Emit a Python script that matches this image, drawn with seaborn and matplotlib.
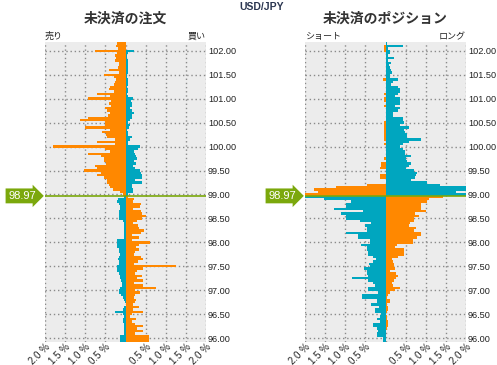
import numpy as np
import pandas as pd
import seaborn as sns
import matplotlib.pyplot as plt

ORANGE = "#ff8800"
TEAL = "#00a6bf"
GREEN = "#7ba80c"

pair = "USD/JPY"
current_price = 98.97

# 0.05 wide price buckets, listed top to bottom
prices_above = np.round(102.15 - 0.05 * np.arange(64), 2)
prices_below = np.round(98.95 - 0.05 * np.arange(61), 2)

# 未決済の注文 (% of book)
orders_left_above = [0.22, 0.23, 0.18, 0.77, 0.2, 0.27, 0.23, 0.25, 0.17, 0.17, 0.18, 0.42, 0.17,
                     0.54, 0.28, 0.23, 0.25, 0.28, 0.38, 0.4, 0.28, 0.72, 0.38, 0.92, 0.37, 0.42,
                     0.35, 0.5, 0.47, 0.38, 0.43, 0.93, 1.13, 0.52, 0.5, 1.0, 0.38, 0.58, 0.48,
                     0.47, 0.27, 0.72, 0.25, 1.8, 0.52, 0.38, 0.93, 0.62, 0.53, 0.53, 0.48, 0.77,
                     0.7, 1.02, 0.6, 0.72, 0.53, 0.47, 0.47, 0.4, 0.38, 0.32, 0.13, 0.07]
orders_right_above = [0.0, 0.0, 0.0, 0.21, 0.07, 0.03, 0.03, 0.05, 0.05, 0.07, 0.05, 0.05, 0.07,
                      0.03, 0.03, 0.05, 0.07, 0.05, 0.03, 0.05, 0.05, 0.03, 0.05, 0.18, 0.13, 0.15,
                      0.15, 0.1, 0.15, 0.2, 0.17, 0.15, 0.1, 0.07, 0.1, 0.08, 0.03, 0.07, 0.07,
                      0.15, 0.12, 0.07, 0.05, 0.37, 0.32, 0.22, 0.23, 0.25, 0.28, 0.22, 0.25, 0.18,
                      0.23, 0.37, 0.38, 0.42, 0.4, 0.23, 0.42, 0.17, 0.17, 0.18, 0.18, 0.07]
orders_left_below = [0.05, 0.18, 0.2, 0.17, 0.13, 0.13, 0.17, 0.15, 0.17, 0.15, 0.07, 0.05, 0.05,
                     0.03, 0.03, 0.03, 0.03, 0.05, 0.22, 0.22, 0.2, 0.22, 0.17, 0.15, 0.13, 0.15,
                     0.18, 0.17, 0.17, 0.2, 0.22, 0.2, 0.17, 0.13, 0.13, 0.1, 0.08, 0.08, 0.13,
                     0.15, 0.17, 0.1, 0.07, 0.05, 0.02, 0.0, 0.03, 0.07, 0.27, 0.07, 0.05, 0.07,
                     0.07, 0.05, 0.05, 0.05, 0.05, 0.05, 0.13, 0.13, 0.13]
orders_right_below = [0.07, 0.22, 0.18, 0.38, 0.35, 0.18, 0.38, 0.42, 0.5, 0.42, 0.28, 0.18, 0.32,
                      0.33, 0.45, 0.38, 0.17, 0.33, 0.15, 0.62, 0.33, 0.25, 0.33, 0.23, 0.22, 0.38,
                      0.43, 0.32, 0.22, 1.25, 0.43, 0.28, 0.23, 0.42, 0.28, 0.43, 0.2, 0.43, 0.75,
                      0.23, 0.35, 0.23, 0.2, 0.25, 0.23, 0.18, 0.33, 0.18, 0.43, 0.17, 0.1, 0.25,
                      0.17, 0.23, 0.43, 0.28, 0.43, 0.23, 0.58, 0.58, 0.58]

# 未決済のポジション (% of book)
pos_left_above = [0.0, 0.05, 0.05, 0.03, 0.0, 0.0, 0.0, 0.0, 0.0, 0.0, 0.0, 0.0, 0.0,
                  0.0, 0.0, 0.07, 0.0, 0.0, 0.0, 0.0, 0.0, 0.05, 0.0, 0.03, 0.05, 0.0,
                  0.05, 0.0, 0.0, 0.0, 0.0, 0.0, 0.0, 0.05, 0.05, 0.05, 0.05, 0.05, 0.05,
                  0.05, 0.05, 0.0, 0.05, 0.0, 0.0, 0.0, 0.0, 0.0, 0.05, 0.0, 0.12, 0.1,
                  0.13, 0.0, 0.0, 0.13, 0.13, 0.0, 0.0, 0.47, 1.22, 1.77, 1.67, 2.3]
pos_right_above = [0.03, 0.43, 0.07, 0.12, 0.1, 0.07, 0.22, 0.07, 0.13, 0.08, 0.12, 0.13, 0.15,
                   0.12, 0.1, 0.32, 0.18, 0.13, 0.3, 0.37, 0.35, 0.32, 0.23, 0.35, 0.37, 0.35,
                   0.23, 0.37, 0.3, 0.18, 0.18, 0.43, 0.43, 0.45, 0.35, 0.58, 0.45, 0.48, 0.53,
                   0.53, 0.88, 0.58, 0.43, 0.35, 0.43, 0.48, 0.48, 0.63, 0.5, 0.53, 0.63, 0.58,
                   0.52, 0.7, 0.78, 0.75, 0.73, 0.63, 1.03, 1.35, 2.3, 2.3, 1.74, 2.3]
pos_left_below = [2.3, 1.53, 0.85, 0.97, 0.97, 1.27, 0.55, 1.1, 0.97, 0.97, 0.63, 0.35, 0.52,
                  0.47, 0.47, 0.97, 0.68, 0.68, 0.38, 0.38, 0.62, 0.47, 0.47, 0.43, 0.43, 0.32,
                  0.23, 0.32, 0.4, 0.38, 0.53, 0.47, 0.47, 0.43, 0.83, 0.43, 0.3, 0.27, 0.43,
                  0.43, 0.18, 0.58, 0.58, 0.2, 0.22, 0.37, 0.17, 0.27, 0.27, 0.1, 0.13, 0.22,
                  0.13, 0.32, 0.3, 0.2, 0.18, 0.22, 0.22, 0.07, 0.07]
pos_right_below = [1.43, 1.08, 1.03, 0.88, 0.87, 0.87, 1.0, 0.73, 0.82, 0.7, 0.7, 0.62, 0.58,
                   0.75, 0.72, 0.88, 0.87, 0.78, 0.68, 0.68, 0.28, 0.23, 0.45, 0.45, 0.45, 0.3,
                   0.17, 0.18, 0.2, 0.2, 0.23, 0.12, 0.25, 0.3, 0.25, 0.2, 0.17, 0.18, 0.37,
                   0.23, 0.1, 0.05, 0.03, 0.1, 0.1, 0.03, 0.05, 0.05, 0.03, 0.0, 0.03, 0.03,
                   0.05, 0.05, 0.05, 0.03, 0.02, 0.02, 0.02, 0.0, 0.0]

x_ticks = [-2.0, -1.5, -1.0, -0.5, 0.0, 0.5, 1.0, 1.5, 2.0]
x_labels = ["2.0 %", "1.5 %", "1.0 %", "0.5 %", "", "0.5 %", "1.0 %", "1.5 %", "2.0 %"]
y_ticks = np.round(np.arange(96.0, 102.01, 0.5), 2)

panels = [
    ("未決済の注文", "売り", "買い",
     orders_left_above, orders_right_above, orders_left_below, orders_right_below),
    ("未決済のポジション", "ショート", "ロング",
     pos_left_above, pos_right_above, pos_left_below, pos_right_below),
]


def book_frame(la, ra, lb, rb):
    # above the price: orange left / teal right, below: teal left / orange right
    return pd.concat([
        pd.DataFrame({"price": prices_above, "pct": -np.array(la), "side": "orange"}),
        pd.DataFrame({"price": prices_above, "pct": np.array(ra), "side": "teal"}),
        pd.DataFrame({"price": prices_below, "pct": -np.array(lb), "side": "teal"}),
        pd.DataFrame({"price": prices_below, "pct": np.array(rb), "side": "orange"}),
    ], ignore_index=True)


sns.set_theme(style="whitegrid", rc={"axes.facecolor": "#ececec"})
plt.rcParams["font.family"] = ["Noto Sans CJK JP", "DejaVu Sans"]

fig = plt.figure(figsize=(4.97, 3.65), dpi=100)
lefts = [45 / 497, 305 / 497]

for left, (title, lab_l, lab_r, la, ra, lb, rb) in zip(lefts, panels):
    ax = fig.add_axes([left, 0.0638, 0.324, 0.820])
    df = book_frame(la, ra, lb, rb)
    sns.barplot(data=df, x="pct", y="price", hue="side", orient="y", native_scale=True,
                palette={"orange": ORANGE, "teal": TEAL}, dodge=False, width=1,
                errorbar=None, legend=False, linewidth=0, saturation=1,
                antialiased=False, ax=ax)
    ax.set_xlim(-2, 2)
    ax.set_ylim(95.925, 102.175)
    ax.set(xlabel="", ylabel="")
    ax.set_axisbelow(True)
    ax.grid(True, linestyle=(0, (1, 2)), color="#8a8a8a", linewidth=1)
    for s in ax.spines.values():
        s.set_visible(False)

    ax.set_xticks(x_ticks)
    ax.set_xticklabels(x_labels, rotation=45, ha="right", va="top", rotation_mode="anchor",
                       fontsize=7, color="#222222", fontfamily="Liberation Sans")
    ax.yaxis.tick_right()
    ax.set_yticks(y_ticks)
    ax.set_yticklabels([f"{v:.2f}" for v in y_ticks], fontsize=6.6, color="#222222",
                       fontfamily="Liberation Sans")
    ax.tick_params(axis="y", length=0, pad=1.5)
    ax.tick_params(axis="x", length=0, pad=0)

    ax.axhline(current_price, color=GREEN, linewidth=1.2, zorder=5)
    ax.text(-0.058, current_price, f"{current_price:.2f}", transform=ax.get_yaxis_transform(),
            ha="right", va="center", color="white", fontsize=8, fontfamily="Liberation Sans",
            bbox=dict(boxstyle="rarrow,pad=0.22", fc=GREEN, ec="none"), clip_on=False)

    ax.text(0.5, 1 + 24 / 299, title, transform=ax.transAxes, ha="center", va="center",
            fontsize=10, fontweight="bold", color="#333333")
    ax.text(0, 1.005, lab_l, transform=ax.transAxes, ha="left", va="bottom",
            fontsize=6.5, color="#222222")
    ax.text(1, 1.005, lab_r, transform=ax.transAxes, ha="right", va="bottom",
            fontsize=6.5, color="#222222")

fig.text(262 / 497, 1 - 7 / 365, pair, ha="center", va="center", fontsize=7.5,
         fontweight="bold", color="#2a3550", fontfamily="Liberation Sans")

fig.savefig("out.png", dpi=100)
